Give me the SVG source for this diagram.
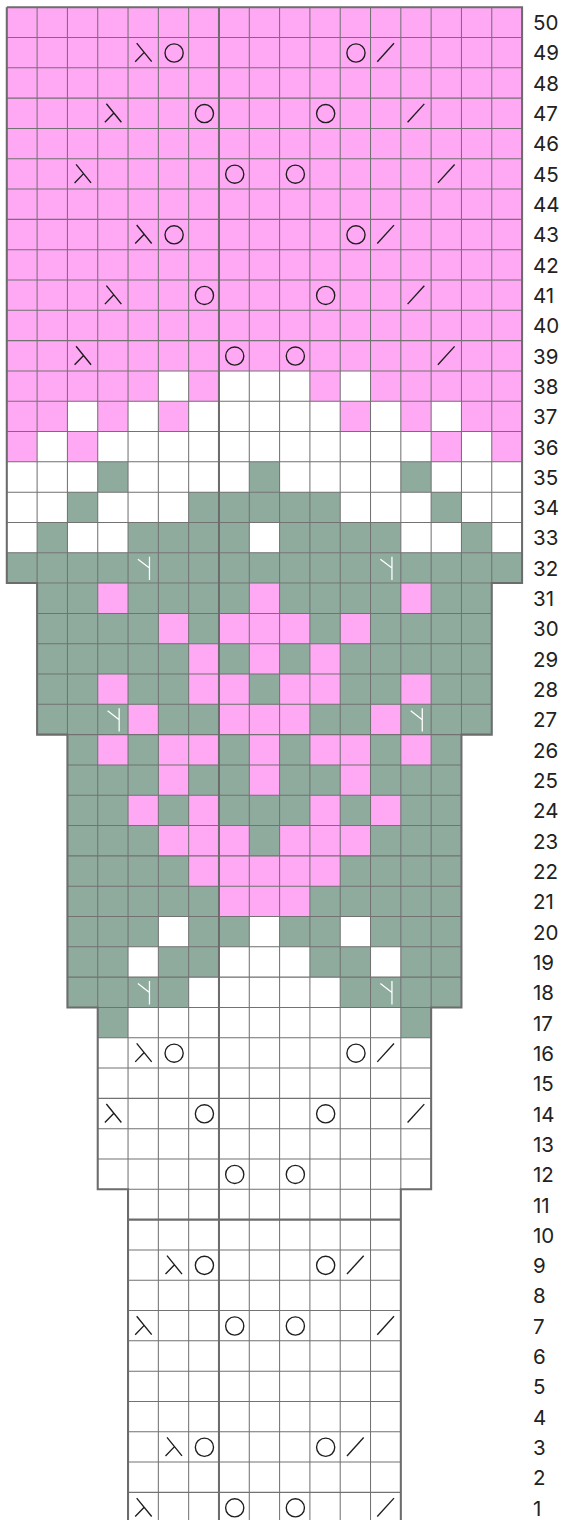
<svg xmlns="http://www.w3.org/2000/svg" xmlns:xlink="http://www.w3.org/1999/xlink" width="565" height="1520" viewBox="0 0 565 1520">
<style>
.p{fill:#ffa8f4}
.g{fill:#8fab9e}
.w{fill:#ffffff}
.thin{fill:none;stroke:#727272;stroke-width:0.034}
.thick{fill:none;stroke:#6c6c6c;stroke-width:0.068}
.sym{fill:none;stroke:#1e1e1e;stroke-width:0.045}
.inc{fill:none;stroke:#ffffff;stroke-width:0.042}
.lbl{font-family:Inter,"Liberation Sans",sans-serif;font-size:20.5px;fill:#222222}
</style>
<defs>
<g id="yo"><circle class="sym" cx="0.52" cy="0.51" r="0.3"/></g>
<g id="ssk"><path class="sym" d="M0.285,0.187 L0.78,0.797 M0.236,0.797 L0.533,0.49"/></g>
<g id="k2t"><path class="sym" d="M0.223,0.797 L0.774,0.19"/></g>
<g id="inc"><path class="inc" d="M0.707,0.13 V0.9 M0.325,0.21 L0.707,0.505"/></g>
</defs>
<rect x="0" y="0" width="565" height="1520" fill="#ffffff"/>
<g id="chart" transform="translate(6.8 7.2) scale(30.31)">
<g id="fills">
<path class="w" d="M0,0 H17 V19 H16 V24 H15 V33 H14 V39 H13 V50.5 H4 V39 H3 V33 H2 V24 H1 V19 H0 Z"/>
<rect class="p" x="0" y="0" width="17" height="12"/>
<rect class="p" x="0" y="12" width="5" height="1"/><rect class="p" x="6" y="12" width="1" height="1"/><rect class="p" x="10" y="12" width="1" height="1"/><rect class="p" x="12" y="12" width="5" height="1"/>
<rect class="p" x="0" y="13" width="2" height="1"/><rect class="p" x="3" y="13" width="1" height="1"/><rect class="p" x="5" y="13" width="1" height="1"/><rect class="p" x="11" y="13" width="1" height="1"/><rect class="p" x="13" y="13" width="1" height="1"/><rect class="p" x="15" y="13" width="2" height="1"/>
<rect class="p" x="0" y="14" width="1" height="1"/><rect class="p" x="2" y="14" width="1" height="1"/><rect class="p" x="14" y="14" width="1" height="1"/><rect class="p" x="16" y="14" width="1" height="1"/>
<rect class="g" x="3" y="15" width="1" height="1"/><rect class="g" x="8" y="15" width="1" height="1"/><rect class="g" x="13" y="15" width="1" height="1"/>
<rect class="g" x="2" y="16" width="1" height="1"/><rect class="g" x="6" y="16" width="5" height="1"/><rect class="g" x="14" y="16" width="1" height="1"/>
<rect class="g" x="1" y="17" width="1" height="1"/><rect class="g" x="4" y="17" width="4" height="1"/><rect class="g" x="9" y="17" width="4" height="1"/><rect class="g" x="15" y="17" width="1" height="1"/>
<rect class="g" x="0" y="18" width="17" height="1"/>
<rect class="g" x="1" y="19" width="15" height="5"/>
<rect class="g" x="2" y="24" width="13" height="9"/>
<rect class="g" x="3" y="33" width="1" height="1"/><rect class="g" x="13" y="33" width="1" height="1"/>
<rect class="p" x="3" y="19" width="1" height="1"/><rect class="p" x="8" y="19" width="1" height="1"/><rect class="p" x="13" y="19" width="1" height="1"/>
<rect class="p" x="5" y="20" width="1" height="1"/><rect class="p" x="7" y="20" width="3" height="1"/><rect class="p" x="11" y="20" width="1" height="1"/>
<rect class="p" x="6" y="21" width="1" height="1"/><rect class="p" x="8" y="21" width="1" height="1"/><rect class="p" x="10" y="21" width="1" height="1"/>
<rect class="p" x="3" y="22" width="1" height="1"/><rect class="p" x="6" y="22" width="2" height="1"/><rect class="p" x="9" y="22" width="2" height="1"/><rect class="p" x="13" y="22" width="1" height="1"/>
<rect class="p" x="4" y="23" width="1" height="1"/><rect class="p" x="7" y="23" width="3" height="1"/><rect class="p" x="12" y="23" width="1" height="1"/>
<rect class="p" x="3" y="24" width="1" height="1"/><rect class="p" x="5" y="24" width="2" height="1"/><rect class="p" x="8" y="24" width="1" height="1"/><rect class="p" x="10" y="24" width="2" height="1"/><rect class="p" x="13" y="24" width="1" height="1"/>
<rect class="p" x="5" y="25" width="1" height="1"/><rect class="p" x="8" y="25" width="1" height="1"/><rect class="p" x="11" y="25" width="1" height="1"/>
<rect class="p" x="4" y="26" width="1" height="1"/><rect class="p" x="6" y="26" width="1" height="1"/><rect class="p" x="10" y="26" width="1" height="1"/><rect class="p" x="12" y="26" width="1" height="1"/>
<rect class="p" x="5" y="27" width="3" height="1"/><rect class="p" x="9" y="27" width="3" height="1"/>
<rect class="p" x="6" y="28" width="5" height="1"/>
<rect class="p" x="7" y="29" width="3" height="1"/>
<rect class="w" x="5" y="30" width="1" height="1"/><rect class="w" x="8" y="30" width="1" height="1"/><rect class="w" x="11" y="30" width="1" height="1"/>
<rect class="w" x="4" y="31" width="1" height="1"/><rect class="w" x="7" y="31" width="3" height="1"/><rect class="w" x="12" y="31" width="1" height="1"/>
<rect class="w" x="6" y="32" width="5" height="1"/>
</g>
<g id="grid">
<path class="thin" d="M0,1H17M0,2H17M0,3H17M0,4H17M0,5H17M0,6H17M0,7H17M0,8H17M0,9H17M0,10H17M0,11H17M0,12H17M0,13H17M0,14H17M0,15H17M0,16H17M0,17H17M0,18H17
M1,19H16M1,20H16M1,21H16M1,22H16M1,23H16
M2,24H15M2,25H15M2,26H15M2,27H15M2,28H15M2,29H15M2,30H15M2,31H15M2,32H15
M3,33H14M3,34H14M3,35H14M3,36H14M3,37H14M3,38H14
M4,39H13M4,41H13M4,42H13M4,43H13M4,44H13M4,45H13M4,46H13M4,47H13M4,48H13M4,49H13
M1,0V19M16,0V19M2,0V24M15,0V24M3,0V33M14,0V33M4,0V39M13,0V39
M5,0V50.5M6,0V50.5M8,0V50.5M9,0V50.5M10,0V50.5M11,0V50.5M12,0V50.5"/>
<path class="thick" d="M7,0V50.5M4,40H13"/>
<path class="thick" d="M0,0 H17 V19 H16 V24 H15 V33 H14 V39 H13 V50.5 M0,0 V19 H1 V24 H2 V33 H3 V39 H4 V50.5"/>
</g>
<g id="symbols">
<use href="#ssk" x="4" y="1"/><use href="#yo" x="5" y="1"/><use href="#yo" x="11" y="1"/><use href="#k2t" x="12" y="1"/>
<use href="#ssk" x="3" y="3"/><use href="#yo" x="6" y="3"/><use href="#yo" x="10" y="3"/><use href="#k2t" x="13" y="3"/>
<use href="#ssk" x="2" y="5"/><use href="#yo" x="7" y="5"/><use href="#yo" x="9" y="5"/><use href="#k2t" x="14" y="5"/>
<use href="#ssk" x="4" y="7"/><use href="#yo" x="5" y="7"/><use href="#yo" x="11" y="7"/><use href="#k2t" x="12" y="7"/>
<use href="#ssk" x="3" y="9"/><use href="#yo" x="6" y="9"/><use href="#yo" x="10" y="9"/><use href="#k2t" x="13" y="9"/>
<use href="#ssk" x="2" y="11"/><use href="#yo" x="7" y="11"/><use href="#yo" x="9" y="11"/><use href="#k2t" x="14" y="11"/>
<use href="#inc" x="4" y="18"/><use href="#inc" x="12" y="18"/>
<use href="#inc" x="3" y="23"/><use href="#inc" x="13" y="23"/>
<use href="#inc" x="4" y="32"/><use href="#inc" x="12" y="32"/>
<use href="#ssk" x="4" y="34"/><use href="#yo" x="5" y="34"/><use href="#yo" x="11" y="34"/><use href="#k2t" x="12" y="34"/>
<use href="#ssk" x="3" y="36"/><use href="#yo" x="6" y="36"/><use href="#yo" x="10" y="36"/><use href="#k2t" x="13" y="36"/>
<use href="#yo" x="7" y="38"/><use href="#yo" x="9" y="38"/>
<use href="#ssk" x="5" y="41"/><use href="#yo" x="6" y="41"/><use href="#yo" x="10" y="41"/><use href="#k2t" x="11" y="41"/>
<use href="#ssk" x="4" y="43"/><use href="#yo" x="7" y="43"/><use href="#yo" x="9" y="43"/><use href="#k2t" x="12" y="43"/>
<use href="#ssk" x="5" y="47"/><use href="#yo" x="6" y="47"/><use href="#yo" x="10" y="47"/><use href="#k2t" x="11" y="47"/>
<use href="#ssk" x="4" y="49"/><use href="#yo" x="7" y="49"/><use href="#yo" x="9" y="49"/><use href="#k2t" x="12" y="49"/>
</g>
</g>
<g id="labels" class="lbl">
<text x="533" y="30">50</text><text x="533" y="60.3">49</text><text x="533" y="90.6">48</text><text x="533" y="121">47</text><text x="533" y="151.3">46</text>
<text x="533" y="181.6">45</text><text x="533" y="211.9">44</text><text x="533" y="242.2">43</text><text x="533" y="272.6">42</text><text x="533" y="302.9">41</text>
<text x="533" y="333.2">40</text><text x="533" y="363.5">39</text><text x="533" y="393.8">38</text><text x="533" y="424.2">37</text><text x="533" y="454.5">36</text>
<text x="533" y="484.8">35</text><text x="533" y="515.1">34</text><text x="533" y="545.4">33</text><text x="533" y="575.8">32</text><text x="533" y="606.1">31</text>
<text x="533" y="636.4">30</text><text x="533" y="666.7">29</text><text x="533" y="697">28</text><text x="533" y="727.4">27</text><text x="533" y="757.7">26</text>
<text x="533" y="788">25</text><text x="533" y="818.3">24</text><text x="533" y="848.6">23</text><text x="533" y="879">22</text><text x="533" y="909.3">21</text>
<text x="533" y="939.6">20</text><text x="533" y="969.9">19</text><text x="533" y="1000.2">18</text><text x="533" y="1030.6">17</text><text x="533" y="1060.9">16</text>
<text x="533" y="1091.2">15</text><text x="533" y="1121.5">14</text><text x="533" y="1151.8">13</text><text x="533" y="1182.2">12</text><text x="533" y="1212.5">11</text>
<text x="533" y="1242.8">10</text><text x="533" y="1273.1">9</text><text x="533" y="1303.4">8</text><text x="533" y="1333.8">7</text><text x="533" y="1364.1">6</text>
<text x="533" y="1394.4">5</text><text x="533" y="1424.7">4</text><text x="533" y="1455">3</text><text x="533" y="1485.4">2</text><text x="533" y="1515.7">1</text>
</g>
</svg>
